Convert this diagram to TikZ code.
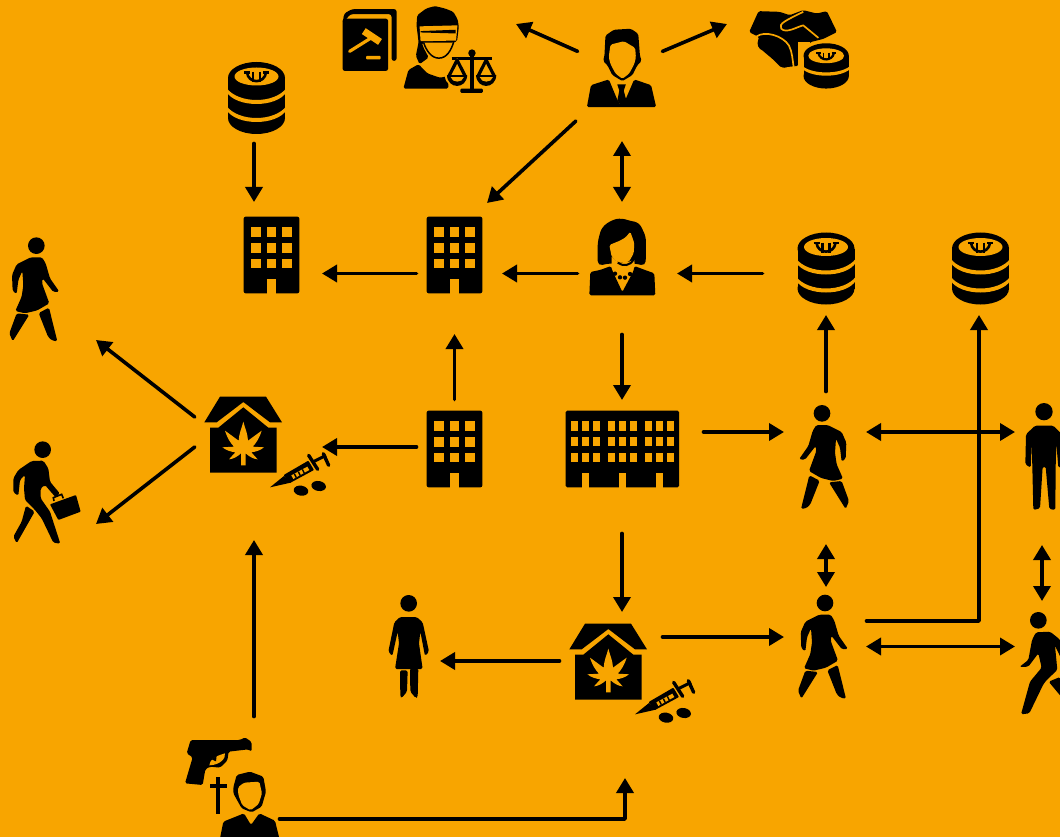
\documentclass[tikz,border=0pt]{standalone}
\usetikzlibrary{arrows.meta}
\definecolor{bg}{HTML}{F8A500}
\tikzset{
  conn/.style={line width=3.6pt,line cap=round,line join=round,shorten <=1.5pt,-{Triangle[length=15pt,width=17pt]}},
  connb/.style={line width=3.6pt,line cap=round,{Triangle[length=15pt,width=17pt]}-{Triangle[length=15pt,width=17pt]}},
  anchorbox/.style={inner sep=0pt,minimum size=2pt},
  rc/.style={rounded corners=1.6pt},
  rcl/.style={rounded corners=5pt},
  rcs/.style={rounded corners=0.8pt},
  coinstack/.pic={
    \fill (0,-20) ellipse [x radius=28.5,y radius=16];
    \fill (-28.5,-20) rectangle (28.5,20);
    \fill (0,20) ellipse [x radius=28.5,y radius=16];
    \fill[bg] (0,-21.5) ellipse [x radius=22,y radius=9];
    \fill[bg] (-30,-10) .. controls (-18,6) and (18,6) .. (30,-10) -- (30,-6) .. controls (20,10) and (-20,10) .. (-30,-6) -- cycle;
    \fill[bg] (-30,8) .. controls (-18,24) and (18,24) .. (30,8) -- (30,12) .. controls (20,28) and (-20,28) .. (-30,12) -- cycle;
    \draw[line width=2.6pt] (-9.5,-25.5) .. controls (-8,-14) and (8,-14) .. (9.5,-25.5);
    \draw[line width=2.2pt] (-3.5,-26) -- (-3.5,-16) (3.5,-26) -- (3.5,-16);
    \draw[line width=2.2pt] (-12.5,-25.5) -- (-6.5,-25.5) (6.5,-25.5) -- (12.5,-25.5);
  },
  towerblock/.pic={
    \fill[rounded corners=2pt] (35,20) rectangle (202,250);
    \foreach \wx in {57,104,150} \foreach \wy in {52,99,146}
      \fill[bg] (\wx,\wy) rectangle ++(29,29);
    \fill[bg] (105,208) rectangle (133,251);
  },
  widehotel/.pic={
    \fill[rounded corners=1.5pt] (32,32) rectangle (372,262);
    \foreach \wx in {48,81,114,158,191,224,269,302,335} \foreach \wy in {64,110,158}
      \fill[bg] (\wx,\wy) rectangle ++(21,29);
    \foreach \wx in {81,191,302}
      \fill[bg] (\wx,218) rectangle ++(21,45);
  },
  drughouse/.pic={
    \fill (43,97) -- (90,20) -- (228,20) -- (276,97) -- (240,97) -- (160,36) -- (80,97) -- cycle;
    \fill (60,113) -- (85,113) -- (160,52) -- (235,113) -- (260,113) -- (260,248) -- (60,248) -- cycle;
    \fill[bg] (160,95) .. controls (165,115) and (173,130) .. (174,152) -- (215,122) .. controls (208,145) and (198,160) .. (188,170)
      -- (222,172) .. controls (210,182) and (197,185) .. (184,187) -- (203,208) .. controls (190,207) and (178,200) .. (167,190)
      -- (167,226) -- (153,226) -- (153,190) .. controls (142,200) and (130,207) .. (117,208) -- (136,187)
      .. controls (123,185) and (110,182) .. (97,172) -- (132,170) .. controls (122,160) and (112,145) .. (105,122) -- (146,152)
      .. controls (147,130) and (155,115) .. (160,95) -- cycle;
    % syringe
    \fill (240,292) -- (282,258) -- (302,278) -- cycle;
    \fill[rcs] (281,255) -- (355,212) -- (372,240) -- (298,280) -- cycle;
    \fill[bg] (304,256) -- (352,230) -- (358,240) -- (310,267) -- cycle;
    \draw[line width=1.4pt] (313,251) -- (319,263) (325,245) -- (331,257) (337,238) -- (343,250);
    \draw[line width=3.4pt,line cap=round] (356,196) -- (383,238);
    \draw[line width=3pt] (368,216) -- (408,196);
    \draw[line width=3.4pt,line cap=round] (400,191) -- (416,226);
    \fill[rotate around={-10:(333,302)}] (333,302) ellipse [x radius=22,y radius=15];
    \fill[rotate around={-10:(386,288)}] (386,288) ellipse [x radius=22,y radius=15];
  },
  walkerf/.pic={
    \fill (109,62) circle [radius=25];
    \fill[rc] (92,97) -- (126,97) -- (137,115) -- (150,160) -- (178,200) -- (160,201) -- (128,160) -- (126,175)
      -- (148,235) -- (112,256) -- (75,265) -- (46,258) -- (65,215) -- (70,180) -- (67,138) -- (55,165)
      -- (50,207) -- (38,198) -- (36,150) -- (50,118) -- cycle;
    \fill[rc] (116,264) -- (147,248) -- (172,349) -- (155,346) -- (144,335) -- cycle;
    \fill[rc] (50,265) -- (88,269) -- (38,349) -- (28,325) -- cycle;
  },
  walkerbag/.pic={
    \fill (128,674) circle [radius=25];
    \fill[rc] (95,708) -- (130,707) -- (145,730) -- (150,770) -- (180,806) -- (166,816) -- (135,780) -- (122,790)
      -- (122,820) -- (150,860) -- (181,956) -- (160,953) -- (125,880) -- (105,855) -- (75,825) -- (72,790)
      -- (75,750) -- (60,765) -- (55,812) -- (40,802) -- (40,760) -- (55,735) -- cycle;
    \fill[rc] (78,842) -- (104,860) -- (50,955) -- (40,935) -- (65,890) -- cycle;
    \fill[rcs] (150,838) -- (228,810) -- (242,860) -- (175,885) -- cycle;
    \draw[line width=1.6pt] (162,828) -- (160,818) -- (185,808) -- (190,820);
  },
  standingman/.pic={
    \fill (792,50) circle [radius=26];
    \fill[rc] (738,118) -- (765,92) -- (820,92) -- (846,118) -- (852,215) -- (835,218) -- (829,145) -- (827,215)
      -- (826,345) -- (808,342) -- (797,215) -- (788,215) -- (780,340) -- (760,345) -- (757,215) -- (755,145)
      -- (752,218) -- (736,208) -- cycle;
  },
  walkerm/.pic={
    \fill (775,676) circle [radius=25];
    \fill[rc] (768,712) -- (810,710) -- (838,732) -- (870,790) -- (870,830) -- (848,800) -- (825,752) -- (832,825)
      -- (800,855) -- (790,868) -- (748,955) -- (723,958) -- (750,860) -- (785,818) -- (775,775) -- (745,815) -- (718,816)
      -- (745,795) -- (756,735) -- cycle;
    \fill[rc] (806,860) -- (840,846) -- (860,880) -- (860,925) -- cycle;
  },
  standingwoman/.pic={
    \fill (101,55) circle [radius=25];
    \fill[rc] (75,96) -- (125,96) -- (143,112) -- (162,200) -- (150,213) -- (136,140) -- (132,175) -- (143,252)
      -- (60,252) -- (72,175) -- (68,140) -- (52,213) -- (40,200) -- (58,112) -- cycle;
    \fill[rc] (75,256) -- (98,256) -- (96,320) -- (80,339) -- (76,335) -- cycle;
    \fill[rc] (105,250) -- (130,250) -- (128,337) -- (122,339) -- (106,320) -- cycle;
  },
  bossman/.pic={
    \fill[rc] (812,165) -- (815,105) -- (840,88) -- (890,85) -- (912,100) -- (917,165) -- (922,180) -- (908,195)
      -- (895,222) -- (865,240) -- (835,222) -- (822,195) -- (808,180) -- cycle;
    \fill[bg,rc] (826,158) -- (830,132) -- (870,122) -- (903,142) -- (905,170) -- (900,190) -- (885,218) -- (865,233)
      -- (845,218) -- (830,190) -- (825,170) -- cycle;
    \fill[rc] (760,317) -- (772,252) -- (825,235) -- (852,300) -- (862,312) -- (872,300) -- (900,235) -- (950,252) -- (965,317) -- cycle;
    \fill (850,250) -- (875,250) -- (869,268) -- (877,298) -- (863,312) -- (850,298) -- (856,268) -- cycle;
  },
  ladyjustice/.pic={
    % book
    \fill[rounded corners=2.5pt] (37,55) rectangle (172,210);
    \fill[rounded corners=2.5pt] (37,70) -- (42,40) -- (65,27) -- (197,27) -- (197,180) -- (182,180) -- (182,42) -- (60,42) -- cycle;
    \draw[bg,line width=3.2pt,line cap=round] (58,152) -- (122,112);
    \draw[bg,line width=7pt] (100,92) -- (148,124);
    \fill[bg,rounded corners=1pt] (107,165) rectangle (150,176);
    % lady
    \fill[rc] (256,75) -- (258,45) -- (285,25) -- (310,18) -- (340,25) -- (365,35) -- (378,58) -- (381,80) -- (376,122) -- (365,126)
      -- (272,126) -- (276,140) -- (292,170) -- (265,190) -- (254,165) -- (262,125) -- cycle;
    \fill[bg] (265,78) -- (377,75) -- (373,120) -- (268,122) -- cycle;
    \fill (268,92) -- (372,88) -- (372,99) -- (268,96) -- cycle;
    \draw[line width=1.5pt] (277,126) .. controls (285,150) and (300,172) .. (322,172) .. controls (345,172) and (358,150) .. (366,124);
    \fill[rc] (217,262) -- (232,207) -- (262,190) -- (288,217) -- (325,230) -- (350,225) -- (350,262) -- cycle;
    % scale
    \fill (420,157) circle [radius=11];
    \draw[line width=3.6pt] (360,173) -- (478,173);
    \fill (414,160) rectangle (426,265);
    \fill[rounded corners=1pt] (386,262) rectangle (452,275);
    \fill[bg] (376,172) -- (412,225) .. controls (410,268) and (342,268) .. (340,225) -- cycle;
    \draw[line width=3.2pt,line join=round] (352,225) -- (376,178) -- (400,225);
    \draw[line width=3.2pt,line join=round] (438,225) -- (462,178) -- (486,225);
    \fill (346,222) -- (406,222) .. controls (404,265) and (348,265) .. cycle;
    \fill (432,222) -- (492,222) .. controls (490,265) and (434,265) .. cycle;
    \fill[bg] (357,228) -- (396,228) .. controls (392,246) and (361,246) .. cycle;
    \fill[bg] (443,228) -- (482,228) .. controls (478,246) and (447,246) .. cycle;
  },
  handshake/.pic={
    \fill[rc] (1268,33) -- (1330,35) -- (1360,45) -- (1400,30) -- (1440,40) -- (1470,33) -- (1500,95) -- (1460,115)
      -- (1420,125) -- (1385,195) -- (1335,200) -- (1310,175) -- (1280,150) -- (1265,125) -- (1270,110) -- (1240,95) -- cycle;
    \foreach \cx/\cy in {1288,125,1318/138,1342/165,1345/182} {}
    \fill (1288,128) circle [radius=23];
    \fill (1318,140) circle [radius=23];
    \fill (1340,165) circle [radius=23];
    \fill (1345,183) circle [radius=17];
    \draw[bg,line width=1.7pt,line join=round] (1445,112) -- (1400,75) .. controls (1380,80) and (1350,100) .. (1335,85) .. controls (1325,70) and (1350,60) .. (1400,35);
    \draw[bg,line width=1.7pt] (1262,108) .. controls (1285,90) and (1340,105) .. (1358,135) .. controls (1368,155) and (1368,175) .. (1372,200);
    \fill[bg] (1385,125) rectangle (1420,205);
    \fill[bg] (1468,165) ellipse [x radius=75,y radius=45];
    \fill[bg] (1394,165) rectangle (1543,225);
    \fill (1468,165) ellipse [x radius=67,y radius=37];
    \fill (1401,165) rectangle (1535,225);
    \fill (1468,225) ellipse [x radius=67,y radius=37];
    \fill[bg] (1468,165) ellipse [x radius=53,y radius=22];
    \fill[bg] (1400,197) .. controls (1430,220) and (1506,220) .. (1537,197) -- (1537,206) .. controls (1506,230) and (1430,230) .. (1400,206) -- cycle;
    \draw[line width=2.2pt] (1445,157) .. controls (1450,182) and (1486,182) .. (1491,157);
    \draw[line width=1.8pt] (1460,156) -- (1460,176) (1476,156) -- (1476,176);
    \draw[line width=1.8pt] (1438,157) -- (1452,157) (1484,157) -- (1498,157);
  },
  bosswoman/.pic={
    \fill[rcl] (128,168) -- (128,95) -- (140,52) -- (170,30) -- (200,24) -- (225,33) -- (252,37) -- (273,80) -- (272,168) -- (235,160) -- (165,160) -- cycle;
    \fill[bg,rc] (163,105) -- (195,92) -- (212,82) -- (226,65) -- (238,100) -- (236,130) -- (222,155) -- (190,158) -- (170,140) -- cycle;
    \fill[bg] (170,140) -- (190,158) -- (222,155) -- (238,150) -- (240,180) -- (170,180) -- cycle;
    \fill[bg] (126,167) -- (168,162) -- (172,182) -- (120,182) -- cycle;
    \fill[bg] (274,167) -- (235,162) -- (236,182) -- (280,182) -- cycle;
    \fill[rc] (103,256) -- (106,186) -- (135,180) -- (168,168) -- (172,182) -- (202,246) -- (236,182) -- (238,168) -- (270,180) -- (298,190) -- (301,256) -- cycle;
    \foreach \px/\py in {180/191,195/202,210/203,225/192} \fill (\px,\py) circle [radius=6.5];
    \draw[line width=2pt] (188,158) .. controls (205,170) and (225,168) .. (236,148);
  },
  gunman/.pic={
    % gun
    \fill[rc] (62,30) -- (210,30) -- (225,22) -- (245,36) -- (245,65) -- (235,58) -- (176,65) -- (172,92) -- (150,113)
      -- (120,110) -- (106,118) -- (98,165) -- (45,160) -- (68,82) -- (50,70) -- cycle;
    \fill[bg] (118,106) .. controls (120,90) and (130,80) .. (165,70) .. controls (168,85) and (150,105) .. (118,106) -- cycle;
    \fill (125,88) -- (140,76) -- (138,94) -- cycle;
    % cross
    \fill (139,142) rectangle (151,252);
    \fill (119,162) rectangle (170,174);
    % person
    \fill[rc] (190,172) -- (200,135) -- (240,125) -- (280,140) -- (288,185) -- (275,230) -- (245,247) -- (215,235) -- (190,190) -- cycle;
    \fill[bg,rc] (204,172) -- (222,158) -- (268,155) -- (276,190) -- (266,222) -- (242,241) -- (217,226) -- (205,195) -- cycle;
    \fill[rc] (150,325) -- (160,275) -- (222,250) -- (243,285) -- (268,250) -- (315,272) -- (328,325) -- cycle;
  },
}
\begin{document}
\begin{tikzpicture}[x=1pt,y=-1pt]
\useasboundingbox[fill=bg] (0,0) rectangle (1060,837);

% ---- icons
\pic[scale=0.338] at (330,0) {ladyjustice};
\pic[scale=0.338] at (330,0) {bossman};
\pic[scale=0.338] at (330,0) {handshake};
\pic at (256.5,98) {coinstack};
\pic at (826,268.5) {coinstack};
\pic at (980.5,268.5) {coinstack};
\pic[scale=1/3] at (232,210) {towerblock};
\pic[scale=1/3] at (415,210) {towerblock};
\pic[scale=1/3] at (415,404) {towerblock};
\pic[scale=1/3] at (555,400) {widehotel};
\pic[scale=1/3] at (555,210) {bosswoman};
\pic[scale=1/3] at (190,390) {drughouse};
\pic[scale=1/3] at (555,617) {drughouse};
\pic[scale=1/3] at (0,225) {walkerf};
\pic[scale=1/3] at (0,225) {walkerbag};
\pic[xscale=-1/3,yscale=1/3] at (858.33,392.67) {walkerf};
\pic[scale=1/3] at (788.67,582.33) {walkerf};
\pic[scale=1/3] at (780,395) {standingman};
\pic[scale=1/3] at (780,395) {walkerm};
\pic[scale=1/3] at (375,585) {standingwoman};
\pic[scale=1/3] at (170,730) {gunman};

% ---- named places
\node[anchorbox] (boss) at (622,68) {};
\node[anchorbox] (justice) at (418,48) {};
\node[anchorbox] (deal) at (798,48) {};
\node[anchorbox] (coinsA) at (256,98) {};
\node[anchorbox] (blockA) at (272,255) {};
\node[anchorbox] (blockB) at (454,255) {};
\node[anchorbox] (blockC) at (454,449) {};
\node[anchorbox] (madam) at (622,257) {};
\node[anchorbox] (coinsB) at (826,268) {};
\node[anchorbox] (coinsC) at (980,268) {};
\node[anchorbox] (hotel) at (622,449) {};
\node[anchorbox] (houseA) at (243,435) {};
\node[anchorbox] (houseB) at (608,662) {};
\node[anchorbox] (walkerTop) at (34,289) {};
\node[anchorbox] (walkerBag) at (45,492) {};
\node[anchorbox] (walkerOne) at (824,456) {};
\node[anchorbox] (walkerTwo) at (823,646) {};
\node[anchorbox] (man) at (1043,456) {};
\node[anchorbox] (walkerThree) at (1040,663) {};
\node[anchorbox] (womanLow) at (408,646) {};
\node[anchorbox] (shooter) at (248,805) {};

% ---- connector ends
\coordinate (a1) at (579,52);   \coordinate (b1) at (516,24);
\coordinate (a2) at (661,52);   \coordinate (b2) at (727,24);
\coordinate (a3) at (577,120);  \coordinate (b3) at (487,203);
\coordinate (a4) at (622,141);  \coordinate (b4) at (622,202);
\coordinate (a5) at (254,142);  \coordinate (b5) at (254,202);
\coordinate (a6) at (418,273.5);  \coordinate (b6) at (322,273.5);
\coordinate (a7) at (579,273.5);  \coordinate (b7) at (502,273.5);
\coordinate (a8) at (764,273.5);  \coordinate (b8) at (677,273.5);
\coordinate (a9) at (622,333);  \coordinate (b9) at (622,400);
\coordinate (a10) at (454.5,401); \coordinate (b10) at (454.5,334);
\coordinate (a11) at (418,447); \coordinate (b11) at (322,447);
\coordinate (a12) at (196,418); \coordinate (b12) at (96,340);
\coordinate (a13) at (196,446); \coordinate (b13) at (96,524);
\coordinate (a14) at (702,432); \coordinate (b14) at (784,432);
\coordinate (a15) at (826,393); \coordinate (b15) at (826,315);
\coordinate (a16) at (866,432); \coordinate (b16) at (1015,432);
\coordinate (a17) at (865,621); \coordinate (m17) at (979,621); \coordinate (b17) at (979,315);
\coordinate (a18) at (826,544); \coordinate (b18) at (826,587);
\coordinate (a19) at (1042,545);\coordinate (b19) at (1042,601);
\coordinate (a20) at (866,646.5); \coordinate (b20) at (1015,646.5);
\coordinate (a21) at (622,532); \coordinate (b21) at (622,612);
\coordinate (a22) at (661,637); \coordinate (b22) at (784,637);
\coordinate (a23) at (561,661); \coordinate (b23) at (440,661);
\coordinate (a24) at (254,718); \coordinate (b24) at (254,540);
\coordinate (a25) at (278,819); \coordinate (m25) at (625,819); \coordinate (b25) at (625,778);

% ---- connectors
\draw[conn] (a1) -- (b1);
\draw[conn] (a2) -- (b2);
\draw[conn] (a3) -- (b3);
\draw[connb] (a4) -- (b4);
\draw[conn] (a5) -- (b5);
\draw[conn] (a6) -- (b6);
\draw[conn] (a7) -- (b7);
\draw[conn] (a8) -- (b8);
\draw[conn] (a9) -- (b9);
\draw[conn] (a10) -- (b10);
\draw[conn] (a11) -- (b11);
\draw[conn] (a12) -- (b12);
\draw[conn] (a13) -- (b13);
\draw[conn] (a14) -- (b14);
\draw[conn] (a15) -- (b15);
\draw[connb] (a16) -- (b16);
\draw[conn] (a17) -- (m17) -- (b17);
\draw[connb] (a18) -- (b18);
\draw[connb] (a19) -- (b19);
\draw[connb] (a20) -- (b20);
\draw[conn] (a21) -- (b21);
\draw[conn] (a22) -- (b22);
\draw[conn] (a23) -- (b23);
\draw[conn] (a24) -- (b24);
\draw[conn] (a25) -- (m25) -- (b25);
\end{tikzpicture}
\end{document}
